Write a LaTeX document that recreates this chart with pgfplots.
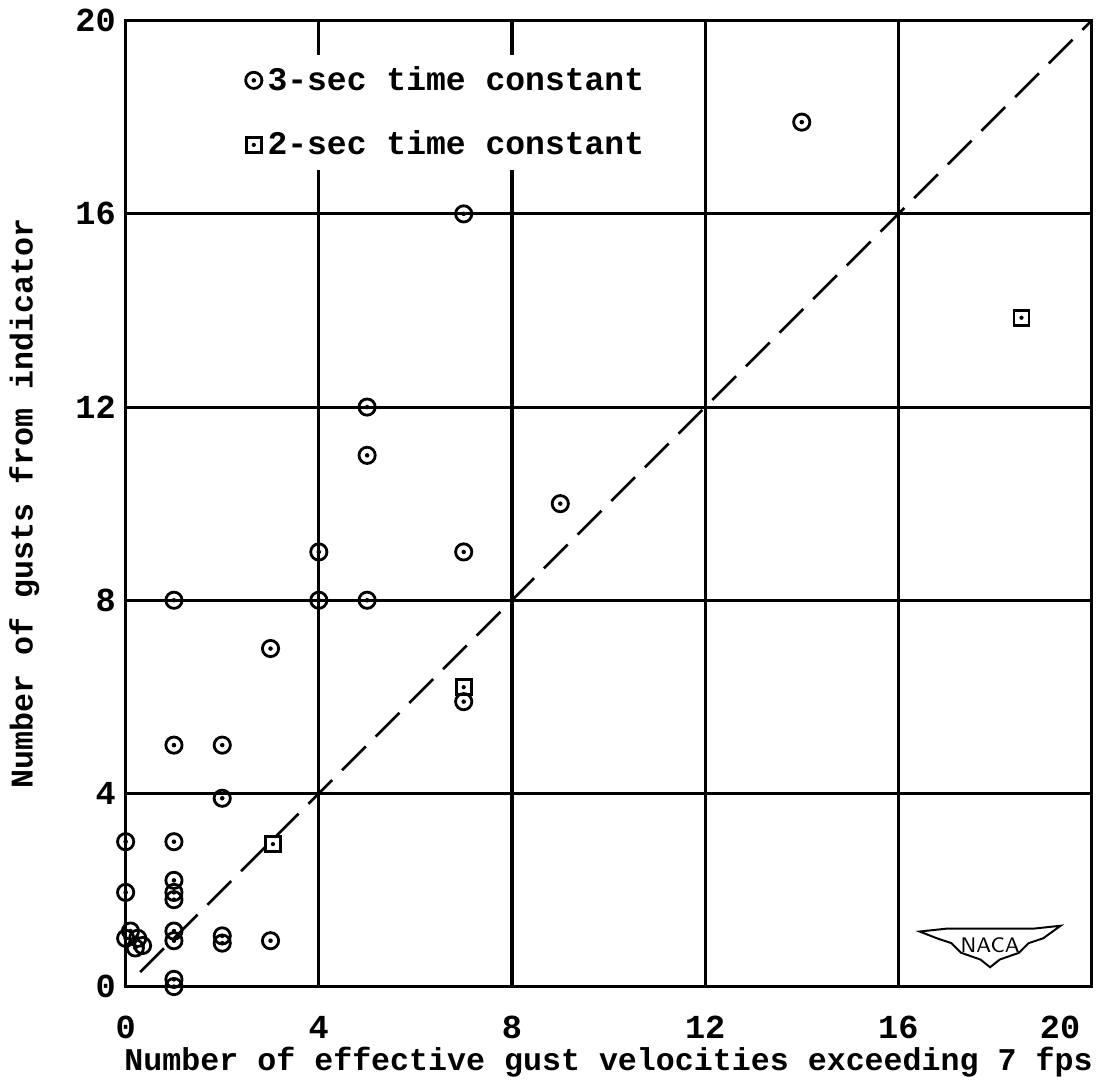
\documentclass[border=0pt]{standalone}
\usepackage{fontspec}
\setmainfont{Liberation Mono}
\usepackage{pgfplots}
\pgfplotsset{compat=1.18}
\pgfdeclareplotmark{codot}{%
  \pgfpathcircle{\pgfpointorigin}{\pgfplotmarksize}\pgfusepathqstroke
  \pgfpathcircle{\pgfpointorigin}{0.28\pgfplotmarksize}\pgfusepathqfill}
\pgfdeclareplotmark{sqdot}{%
  \pgfpathrectangle{\pgfpoint{-\pgfplotmarksize}{-\pgfplotmarksize}}{\pgfpoint{2\pgfplotmarksize}{2\pgfplotmarksize}}\pgfusepathqstroke
  \pgfpathcircle{\pgfpointorigin}{0.28\pgfplotmarksize}\pgfusepathqfill}
\begin{document}
\begin{tikzpicture}
\begin{axis}[
  scale only axis, width=345pt, height=345pt,
  xmin=0, xmax=20, ymin=0, ymax=20,
  xtick={0,4,...,20}, ytick={0,4,...,20},
  xticklabels={0,4,8,12,16,\makebox[0pt][r]{20\hspace{4pt}}},
  grid=major, grid style={black, line width=1.1pt},
  axis line style={line width=1.2pt},
  major tick length=0pt,
  /pgf/number format/assume math mode=true,
  ticklabel style={font=\bfseries\fontsize{12}{14}\selectfont},
  xticklabel style={yshift=-7pt},
  label style={font=\bfseries\fontsize{11.3}{14}\selectfont},
  xlabel={Number of effective gust velocities exceeding 7 fps},
  ylabel={Number of gusts from indicator},
  xlabel style={yshift=4pt},
  ylabel style={yshift=6pt},
  legend style={draw=none, fill=white, at={(rel axis cs:0.115,0.965)}, anchor=north west,
    font=\bfseries\fontsize{11.8}{14}\selectfont, row sep=9pt,
    /tikz/every even column/.append style={column sep=3pt}},
  legend cell align=left,
  clip=false,
]
\addplot[only marks, mark=codot, mark size=2.9pt, line width=1pt] coordinates {
 (1,5) (2,5) (2,3.9) (0,3) (1,3)
 (0,1.95) (1,2.2) (1,1.95) (1,1.8)
 (0,1) (0.1,1.15) (0.25,1) (0.35,0.85) (0.2,0.8)
 (1,1.15) (1,0.95) (2,1.05) (2,0.9) (3,0.95)
 (1,0.15) (1,0)
 (1,8) (3,7) (4,9) (4,8) (5,12) (5,11) (5,8)
 (7,16) (7,9) (7,5.9) (9,10) (14,17.9)
};
\addlegendentry{3-sec time constant}
\addplot[only marks, mark=sqdot, mark size=2.7pt, line width=1pt] coordinates {
 (3.05,2.95) (7,6.2) (18.55,13.85)
};
\addlegendentry{2-sec time constant}
\addplot[black, line width=1pt, dash pattern=on 12pt off 5pt, forget plot] coordinates {(0.3,0.3) (20,20)};
\draw[line width=0.7pt, fill=white] (rel axis cs:0.822,0.057) -- (rel axis cs:0.85,0.06) -- (rel axis cs:0.94,0.06) -- (rel axis cs:0.968,0.063)
  -- (rel axis cs:0.95,0.05) -- (rel axis cs:0.935,0.045) -- (rel axis cs:0.925,0.035) -- (rel axis cs:0.905,0.028) -- (rel axis cs:0.895,0.02)
  -- (rel axis cs:0.885,0.028) -- (rel axis cs:0.865,0.035) -- (rel axis cs:0.855,0.045) -- (rel axis cs:0.84,0.05) -- cycle;
\node[font=\sffamily\fontsize{7.5}{8}\selectfont] at (rel axis cs:0.895,0.043) {NACA};
\end{axis}
\end{tikzpicture}
\end{document}
